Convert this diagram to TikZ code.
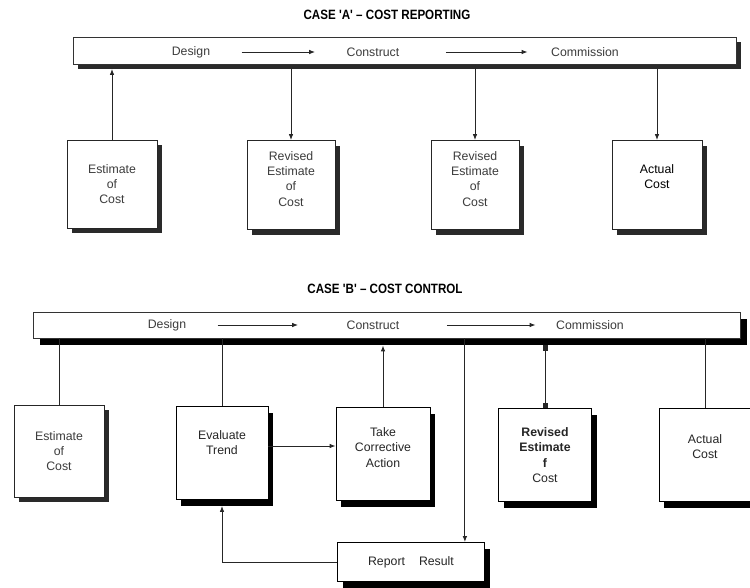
\documentclass[tikz,border=0pt]{standalone}
\usepackage{fontspec}
\setmainfont{Liberation Sans}
\newfontfamily\titlefont[FakeStretch=0.86]{Liberation Sans}
\usetikzlibrary{shadows,arrows.meta,calc}
\definecolor{txtgray}{HTML}{3C3C3C}
\definecolor{shadgray}{HTML}{2A2A2A}
\tikzset{
  conn/.style={line width=0.9pt, draw=black!85},
  arr/.style={conn, -{Latex[length=6pt,width=4.5pt]}},
  sqarr/.style={conn, {Square[length=5pt,width=5pt]}-{Square[length=5pt,width=5pt]}},
  bartxt/.style={font=\fontsize{12.3}{14}\selectfont, text=txtgray},
  titletxt/.style={font=\titlefont\fontsize{13.5}{15}\selectfont\bfseries},
  boxA/.style={draw=black!85, line width=0.8pt, fill=white, align=center,
    font=\fontsize{12.3}{15.3}\selectfont, text=txtgray, inner sep=0pt,
    drop shadow={shadow xshift=5pt, shadow yshift=-5pt, fill=shadgray, opacity=1}},
  boxB/.style={draw=black, line width=0.8pt, fill=white, align=center,
    font=\fontsize{12.3}{15.3}\selectfont, text=black!85, inner sep=0pt,
    drop shadow={shadow xshift=5pt, shadow yshift=-6pt, fill=black, opacity=1}},
  barA/.style={draw=black!80, line width=0.8pt, fill=white, inner sep=0pt,
    drop shadow={shadow xshift=4pt, shadow yshift=-4pt, fill=shadgray, opacity=1}},
  barB/.style={draw=black!80, line width=0.8pt, fill=white, inner sep=0pt,
    drop shadow={shadow xshift=7pt, shadow yshift=-7pt, fill=black, opacity=1}},
}
\begin{document}
\begin{tikzpicture}[x=1pt,y=-1pt]
\useasboundingbox (0,0) rectangle (750,587);
\fill[white] (0,0) rectangle (750,587);

% ---------------- CASE A ----------------
\node[titletxt] (tA) at (387,15) {CASE 'A' – COST REPORTING};
\node[barA, minimum width=663pt, minimum height=27pt] (barA) at (405,51) {};
\coordinate (barAbot) at ([yshift=-4pt]barA.south);
\node[bartxt] (dA) at (191,52) {Design};
\node[bartxt] (cA) at (373,52) {Construct};
\node[bartxt] (mA) at (585,52) {Commission};
\draw[arr] ([xshift=28pt]dA.east) -- ([xshift=-28pt]cA.west);
\draw[arr] ([xshift=43pt]cA.east) -- ([xshift=-20pt]mA.west);

\node[boxA, minimum width=90pt, minimum height=88pt] (eA) at (112,184) {Estimate\\of\\Cost};
\node[boxA, minimum width=88pt, minimum height=89pt] (r1A) at (291,185) {Revised\\Estimate\\of\\Cost\\[-3pt]};
\node[boxA, minimum width=88pt, minimum height=89pt] (r2A) at (475,185) {Revised\\Estimate\\of\\Cost\\[-3pt]};
\node[boxA, minimum width=90pt, minimum height=89pt, text=black] (aA) at (657,185) {Actual\\Cost\\[2pt]};

\draw[arr] (eA.north) -- (eA.north |- barAbot);
\draw[arr] (r1A.north |- barAbot) -- (r1A.north);
\draw[arr] (r2A.north |- barAbot) -- (r2A.north);
\draw[arr] (aA.north |- barAbot) -- (aA.north);

% ---------------- CASE B ----------------
\node[titletxt] (tB) at (385,289) {CASE 'B' – COST CONTROL};
\node[barB, minimum width=707pt, minimum height=26pt] (barB) at (386.5,325) {};
\coordinate (barBbot) at ([yshift=-7pt]barB.south);
\node[bartxt] (dB) at (167,325) {Design};
\node[bartxt] (cB) at (373,325) {Construct};
\node[bartxt] (mB) at (590,325) {Commission};
\draw[arr] ([xshift=28pt]dB.east) -- ([xshift=-45pt]cB.west);
\draw[arr] ([xshift=44pt]cB.east) -- ([xshift=-17pt]mB.west);

\node[boxA, minimum width=90pt, minimum height=92pt] (eB) at (59,451) {Estimate\\of\\Cost};
\node[boxB, minimum width=92pt, minimum height=93pt] (evB) at (222,453) {Evaluate\\Trend\\[6pt]};
\node[boxB, minimum width=94pt, minimum height=93pt] (tkB) at (383,454) {Take\\Corrective\\Action\\[-2pt]};
\node[boxB, minimum width=93pt, minimum height=93pt] (rvB) at (545,455) {\textbf{Revised}\\\textbf{Estimate}\\\textbf{f}\\Cost};
\node[boxB, minimum width=92pt, minimum height=93pt] (acB) at (705,455) {Actual\\Cost\\[2pt]};
\node[boxB, minimum width=147pt, minimum height=39pt] (rpB) at (411,562) {Report\hspace{14pt}Result};
\coordinate (rpTop) at ([xshift=-20pt]rpB.north east);

\draw[conn] (eB.north |- barB.south) -- (eB.north);
\draw[conn] (evB.north |- barB.south) -- (evB.north);
\draw[arr] (tkB.north) -- (tkB.north |- barBbot);
\draw[arr] (rpTop |- barB.south) -- (rpTop);
\draw[sqarr] (rvB.north |- barBbot) -- (rvB.north);
\draw[conn] (acB.north |- barB.south) -- (acB.north);
\draw[arr] ([yshift=7pt]evB.east) -- ([yshift=7pt]evB.east -| tkB.west);
\draw[arr] (rpB.west) -| ([yshift=-6pt]evB.south);
\end{tikzpicture}
\end{document}
